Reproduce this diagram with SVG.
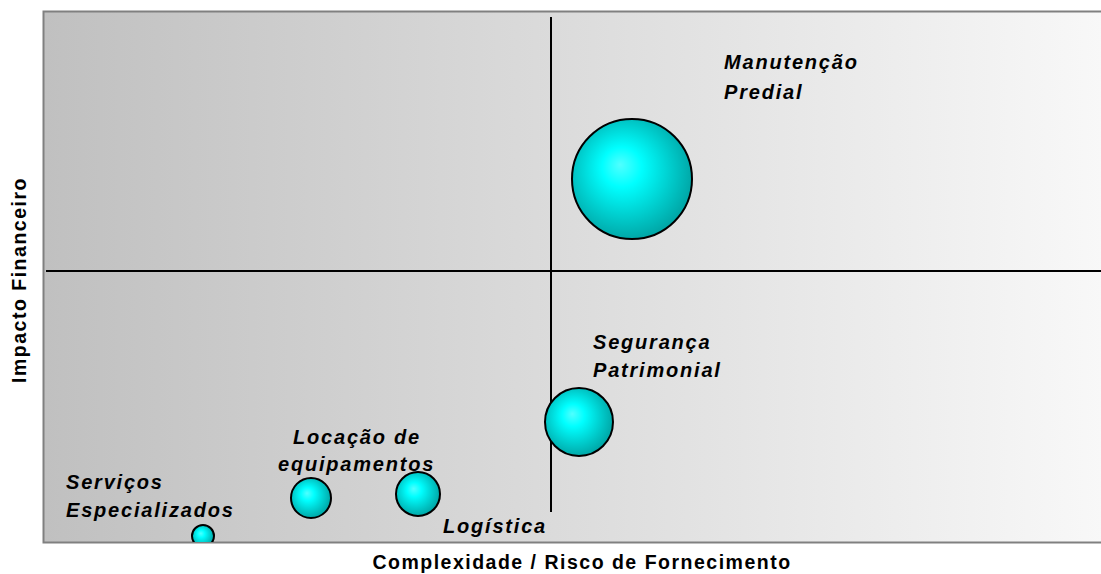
<svg xmlns="http://www.w3.org/2000/svg" width="1101" height="574" viewBox="0 0 1101 574">
<style>
.lbl{font-family:"Liberation Sans",Arial,sans-serif;font-size:20px;font-weight:bold;font-style:italic;letter-spacing:1.8px;fill:#000}
.ax{font-family:"Liberation Sans",Arial,sans-serif;font-size:19.5px;font-weight:bold;fill:#000;letter-spacing:1.5px}
.bub{stroke:#000;stroke-width:2}
</style>
<defs>
<linearGradient id="bg" x1="0" y1="0" x2="1" y2="0">
<stop offset="0" stop-color="#c0c0c0"/>
<stop offset="1" stop-color="#f8f8f8"/>
</linearGradient>
<radialGradient id="ball" cx="0.45" cy="0.45" r="0.55" fx="0.4" fy="0.38">
<stop offset="0" stop-color="#50ffff"/>
<stop offset="0.3" stop-color="#00ffff"/>
<stop offset="1" stop-color="#00a8a8"/>
</radialGradient>
<clipPath id="plot"><rect x="44" y="12" width="1057" height="530"/></clipPath>
</defs>
<rect x="43.5" y="11.5" width="1060" height="531" fill="url(#bg)" stroke="#808080" stroke-width="2"/>
<g id="connectors">
<line x1="46" y1="271" x2="1101" y2="271" stroke="#000" stroke-width="2"/>
<line x1="551" y1="17" x2="551" y2="512" stroke="#000" stroke-width="2"/>
</g>
<g id="manutencao">
<circle class="bub" cx="632" cy="179" r="60" fill="url(#ball)"/>
<text class="lbl" x="724" y="69">Manutenção</text>
<text class="lbl" x="724" y="99">Predial</text>
</g>
<g id="seguranca">
<circle class="bub" cx="579" cy="422" r="34" fill="url(#ball)"/>
<text class="lbl" x="593" y="349">Segurança</text>
<text class="lbl" x="593" y="377">Patrimonial</text>
</g>
<g id="locacao">
<circle class="bub" cx="311" cy="498" r="20" fill="url(#ball)"/>
<text class="lbl" x="293" y="444">Locação de</text>
<text class="lbl" x="278" y="471">equipamentos</text>
</g>
<g id="logistica">
<circle class="bub" cx="418" cy="494" r="22" fill="url(#ball)"/>
<text class="lbl" x="443" y="533">Logística</text>
</g>
<g id="servicos">
<circle class="bub" cx="203" cy="536" r="11" fill="url(#ball)" clip-path="url(#plot)"/>
<text class="lbl" x="66" y="489">Serviços</text>
<text class="lbl" x="66" y="517">Especializados</text>
</g>
<text class="ax" x="582" y="569" text-anchor="middle">Complexidade / Risco de Fornecimento</text>
<text class="ax" x="0" y="0" text-anchor="middle" transform="translate(26,280) rotate(-90)">Impacto Financeiro</text>
</svg>
